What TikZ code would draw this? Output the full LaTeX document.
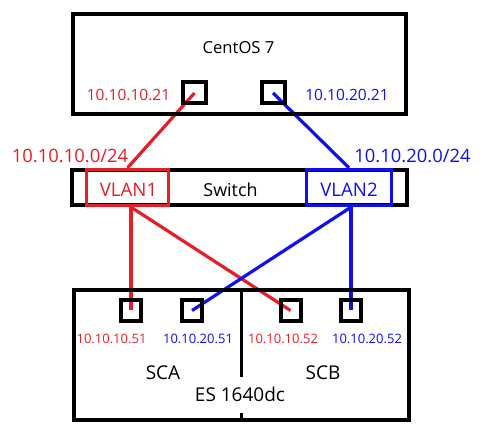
\documentclass[tikz,border=0pt]{standalone}
\usepackage{fontspec}
\setmainfont{Open Sans}
\usepackage{xcolor}
\usepackage{tikz}
\usetikzlibrary{calc,backgrounds}

\definecolor{lanred}{RGB}{230,30,40}
\definecolor{lanblue}{RGB}{15,15,240}

\begin{document}
\begin{tikzpicture}[x=1pt,y=-1pt,
		frame/.style={draw,line width=4pt,inner sep=0pt},
		port/.style={draw,line width=4pt,inner sep=0pt,minimum width=23pt,minimum height=21pt},
		vlanbox/.style={draw=#1,line width=3.3pt,inner sep=0pt,minimum height=36pt},
		wire/.style={#1,line width=3.2pt},
		txt/.style={anchor=base,inner sep=0pt,font=\fontsize{#1}{#1}\selectfont}]
			\useasboundingbox (0,0) rectangle (482,430);
			
			% CentOS host
			\node[frame,minimum width=333pt,minimum height=100pt] (host) at (239.5,64) {};
			\node[txt=16.6] (hostname) at (238.5,54) {CentOS 7};
			\node[port] (h1) at (194.5,93) {};
			\node[port] (h2) at (273,93) {};
			\node[txt=15.5,text=lanred] (h1ip) at (128.5,101) {10.10.10.21};
			\node[txt=15.5,text=lanblue] (h2ip) at (347,101) {10.10.20.21};
			
			% switch
			\node[frame,minimum width=335pt,minimum height=35pt] (sw) at (239.5,187.5) {};
			\node[txt=17.9] (swname) at (230.5,197) {Switch};
			\node[vlanbox=lanred,minimum width=82pt] (vlan1) at (127.5,187.5) {};
			\node[vlanbox=lanblue,minimum width=85pt] (vlan2) at (349,187.5) {};
			\node[txt=18.7,text=lanred] (vlan1name) at (128.5,197) {VLAN1};
			\node[txt=18.7,text=lanblue] (vlan2name) at (349,197) {VLAN2};
			\node[txt=18.4,text=lanred] (net1) at (70,163) {10.10.10.0/24};
			\node[txt=18.4,text=lanblue] (net2) at (412.5,163) {10.10.20.0/24};
			
			% storage
			\node[frame,minimum width=335pt,minimum height=130pt] (es) at (241.5,355) {};
			\draw[line width=3pt] (es.north) -- ++(0,89);
			\draw[line width=3pt] (es.south) -- ++(0,-9);
			\node[port,minimum width=20pt] (a1) at (131,310.5) {};
			\node[port,minimum width=20pt] (a2) at (192,310.5) {};
			\node[port,minimum width=20pt] (b1) at (290.5,310.5) {};
			\node[port,minimum width=20pt] (b2) at (351,310.5) {};
			\node[txt=13,text=lanred] (a1ip) at (111.5,343.5) {10.10.10.51};
			\node[txt=13,text=lanblue] (a2ip) at (198,343.5) {10.10.20.51};
			\node[txt=13,text=lanred] (b1ip) at (283,343.5) {10.10.10.52};
			\node[txt=13,text=lanblue] (b2ip) at (367,343.5) {10.10.20.52};
			\node[txt=19] (sca) at (163,379) {SCA};
			\node[txt=19] (scb) at (323,379) {SCB};
			\node[txt=19] (esname) at (240,401) {ES 1640dc};
			
			\begin{scope}[on background layer]
				\draw[wire=lanred] (h1.center) -- (vlan1.north);
				\draw[wire=lanblue] (h2.center) -- (vlan2.north);
				\draw[wire=lanred] (vlan1.south -| a1.center) -- (a1.center);
				\draw[wire=lanred] (vlan1.south -| a1.center) -- (b1.center);
				\draw[wire=lanblue] (vlan2.south -| b2.center) -- (a2.center);
				\draw[wire=lanblue] (vlan2.south -| b2.center) -- (b2.center);
			\end{scope}
		\end{tikzpicture}
\end{document}
